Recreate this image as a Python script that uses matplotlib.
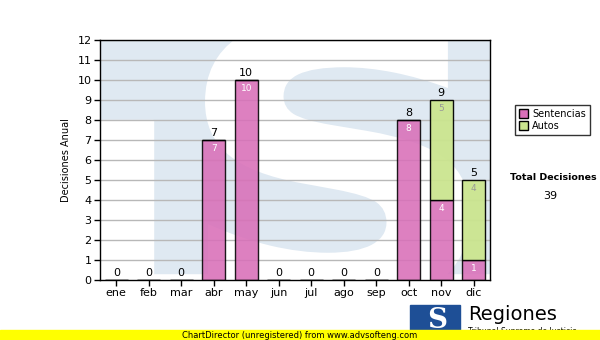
import matplotlib
matplotlib.use("Agg")
import matplotlib.pyplot as plt
import matplotlib.patches as mpatches
from matplotlib.textpath import TextPath
from matplotlib.font_manager import FontProperties
from matplotlib.transforms import Affine2D
import numpy as np

months = ["ene", "feb", "mar", "abr", "may", "jun", "jul", "ago", "sep", "oct", "nov", "dic"]
sentencias = [0, 0, 0, 7, 10, 0, 0, 0, 0, 8, 4, 1]
autos = [0, 0, 0, 0, 0, 0, 0, 0, 0, 0, 5, 4]
yticks = list(range(0, 13))

plt.rcParams['font.family'] = ['DejaVu Sans']
fig = plt.figure(figsize=(6, 3.4), dpi=100)
ax = fig.add_axes([100/600, 60/340, 390/600, 240/340])

x = np.arange(len(months))
ax.set_xlim(-0.5, len(months) - 0.5)
ax.set_ylim(0, 12)


def px2fig(px, py):
    return px / 600, 1 - py / 340


# watermark background (large "TS" logo)
bg = '#dfe9f2'
x0, y0 = px2fig(100, 273)
x1, y1 = px2fig(490, 40)
ax.add_patch(mpatches.Rectangle((x0, y0), x1 - x0, y1 - y0, transform=fig.transFigure,
                                color=bg, zorder=0.1))
wx0, wy0 = px2fig(100, 280)
wx1, wy1 = px2fig(153, 120)
ax.add_patch(mpatches.Rectangle((wx0, wy0), wx1 - wx0, wy1 - wy0, transform=fig.transFigure,
                                color='white', zorder=0.2))
tp = TextPath((0, 0), "S", size=100, prop=FontProperties(family='DejaVu Sans', weight='bold'))
ext = tp.get_extents()
sx0, sy0 = px2fig(205, 305)
sx1, sy1 = px2fig(470, 15)
tr = (Affine2D().translate(-ext.x0, -ext.y0)
      .scale((sx1 - sx0) / ext.width, (sy1 - sy0) / ext.height)
      .translate(sx0, sy0))
spatch = mpatches.PathPatch(tr.transform_path(tp), transform=fig.transFigure,
                            facecolor='white', edgecolor='none', zorder=0.3)
ax.add_patch(spatch)
spatch.set_clip_path(ax.patch)

for t in yticks[1:]:
    ax.axhline(t, color='#b8b8b8', lw=1, zorder=1)

pink = '#d96fb8'
green = '#cbe58f'
w = 0.7
ax.bar(x, sentencias, w, color=pink, edgecolor='black', lw=1, zorder=2, alpha=0.88)
ax.bar(x, autos, w, bottom=sentencias, color=green, edgecolor='black', lw=1, zorder=2, alpha=0.95)

for i in range(len(months)):
    tot = sentencias[i] + autos[i]
    ax.text(x[i], tot + 0.08, str(tot), ha='center', va='bottom', fontsize=8, color='black', zorder=3)
    if sentencias[i] > 0:
        ax.text(x[i], sentencias[i] - 0.2, str(sentencias[i]), ha='center', va='top',
                fontsize=6.5, color='white', zorder=3)
    if autos[i] > 0:
        ax.text(x[i], sentencias[i] + autos[i] - 0.2, str(autos[i]), ha='center', va='top',
                fontsize=6.5, color='#999999', zorder=3)

ax.set_yticks(yticks)
ax.set_xticks(x)
ax.set_xticklabels(months)
ax.tick_params(axis='both', labelsize=8, length=4, width=1, color='black', pad=2)
for s in ax.spines.values():
    s.set_color('black')
    s.set_linewidth(1)
    s.set_zorder(4)
ax.set_ylabel("Decisiones Anual", fontsize=7)
ax.yaxis.set_label_coords(-0.075, 0.5)

handles = [mpatches.Patch(facecolor=pink, edgecolor='black', label='Sentencias'),
           mpatches.Patch(facecolor=green, edgecolor='black', label='Autos')]
leg = fig.legend(handles=handles, loc='upper left', bbox_to_anchor=(510/600, 1 - 100/340),
                 fontsize=7, frameon=True, fancybox=False, edgecolor='black',
                 handlelength=1.0, handleheight=1.0, handletextpad=0.4,
                 borderpad=0.4, labelspacing=0.2)
leg.get_frame().set_linewidth(1)

fig.text(553/600, 1 - 178/340, "Total Decisiones", ha='center', va='center', fontsize=6.8, fontweight='bold')
fig.text(550/600, 1 - 196/340, "39", ha='center', va='center', fontsize=8)

# logo
fig.patches.append(mpatches.Rectangle((410/600, 1 - 337/340), 50/600, 32/340,
                                      transform=fig.transFigure, color='#1e4f96', zorder=1))
fig.text(437/600, 1 - 321/340, "S", ha='center', va='center', fontsize=20, fontweight='bold',
         family='DejaVu Serif', color='white', zorder=2)
fig.text(468/600, 1 - 315/340, "Regiones", ha='left', va='center', fontsize=14, color='black')
fig.text(468/600, 1 - 332/340, "Tribunal Supremo de Justicia", ha='left', va='center',
         fontsize=5.5, color='black')

# banner
fig.patches.append(mpatches.Rectangle((0, 0), 1, 10/340, transform=fig.transFigure,
                                      color='#ffff00', zorder=5))
fig.text(0.5, 5/340, "ChartDirector (unregistered) from www.advsofteng.com", ha='center', va='center',
         fontsize=6, color='black', zorder=6)

fig.savefig("out.png", dpi=100)
